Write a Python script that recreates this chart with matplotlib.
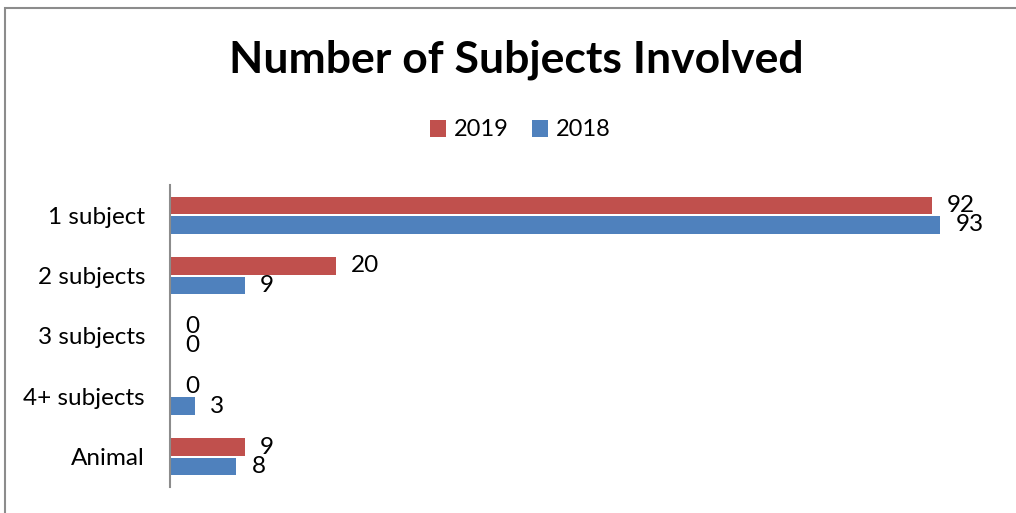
import matplotlib.pyplot as plt
from matplotlib.patches import Rectangle
import numpy as np

plt.rcParams['font.family'] = ['Lato', 'DejaVu Sans']

# Subject counts per category
categories = ['1 subject', '2 subjects', '3 subjects', '4+ subjects', 'Animal']
counts_2019 = [92, 20, 0, 0, 9]
counts_2018 = [93, 9, 0, 3, 8]

red = '#C0504D'
blue = '#4F81BD'

fig = plt.figure(figsize=(10.16, 5.13), dpi=100)

# Outer chart border
fig.add_artist(Rectangle((5 / 1016, -0.05), 1.2, (513 - 8) / 513 + 0.05,
                         transform=fig.transFigure, fill=False,
                         edgecolor='#8c8c8c', linewidth=1.5))

ax = fig.add_axes([170 / 1016, 1 - 487 / 513, (998 - 170) / 1016, (487 - 185) / 513])

y = np.arange(len(categories))
h = 0.29
bars19 = ax.barh(y - h / 2 - 0.015, counts_2019, height=h, color=red, label='2019')
bars18 = ax.barh(y + h / 2 + 0.015, counts_2018, height=h, color=blue, label='2018')

for bars in (bars19, bars18):
    for b in bars:
        ax.annotate(f'{int(b.get_width())}',
                    (b.get_width(), b.get_y() + b.get_height() / 2),
                    xytext=(11, 0), textcoords='offset points',
                    ha='left', va='center', fontsize=17.5)

ax.set_xlim(0, 100)
ax.set_ylim(len(categories) - 0.5, -0.5)
ax.set_yticks(y)
ax.set_yticklabels(categories, fontsize=17.5)
ax.tick_params(axis='y', length=0, pad=18)
ax.set_xticks([])
for side in ('top', 'right', 'bottom'):
    ax.spines[side].set_visible(False)
ax.spines['left'].set_color('#8c8c8c')
ax.spines['left'].set_linewidth(1.5)

fig.text(516 / 1016, 1 - 60 / 513, 'Number of Subjects Involved',
         ha='center', va='center', fontsize=32, fontweight='bold')

fig.legend(handles=[bars19, bars18], loc='center', bbox_to_anchor=(520 / 1016, 1 - 130 / 513),
           ncol=2, frameon=False, fontsize=17, handlelength=0.7, handleheight=0.7,
           handletextpad=0.3, columnspacing=1.0)

fig.savefig('out.png', dpi=100)
